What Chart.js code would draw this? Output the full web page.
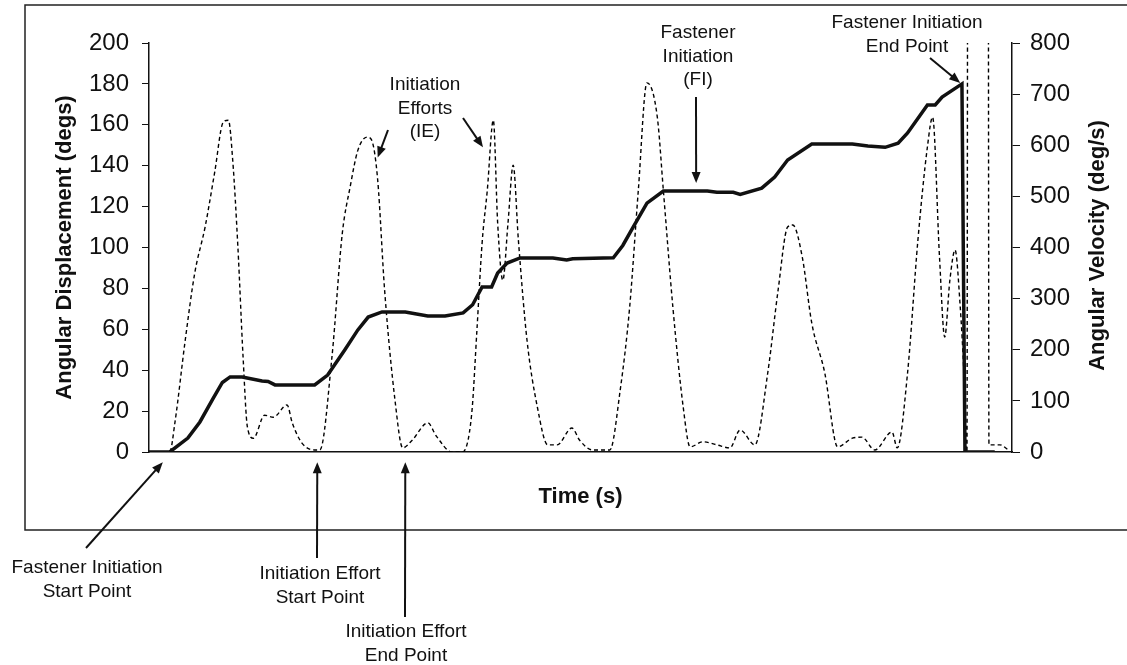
<!DOCTYPE html>
<html lang="en">
<head>
<meta charset="utf-8">
<title>Fastener Initiation - Angular Displacement and Velocity</title>
<script src="https://cdn.jsdelivr.net/npm/chart.js@4.4.1/dist/chart.umd.min.js"></script>
<style>
  html, body { margin: 0; padding: 0; background: #fff; }
  #chartWrap { width: 1127px; height: 665px; }
</style>
</head>
<body>
<div id="chartWrap"><canvas id="initiationChart" width="1127" height="665"></canvas></div>
<script>
// Angular displacement trace (solid line), time in s, displacement in degs
const dispTime = [0.00, 0.24, 0.45, 0.59, 0.74, 0.85, 0.94, 1.08, 1.31, 1.38, 1.46, 1.92, 2.07, 2.27, 2.42, 2.54,
    2.70, 2.97, 3.23, 3.43, 3.64, 3.75, 3.86, 3.97, 4.04, 4.15, 4.30, 4.68, 4.84, 4.91, 5.38, 5.49, 5.61, 5.77,
    5.96, 6.47, 6.58, 6.77, 6.85, 7.10, 7.25, 7.40, 7.68, 8.15, 8.33, 8.53, 8.68, 8.79, 9.02, 9.11, 9.19, 9.42,
    9.455, 9.80];
const dispDegs = [0, 0, 6.8, 14.7, 26, 34, 36.7, 36.7, 34.7, 34.5, 32.8, 32.8, 37.6, 50, 59.7, 66,
    68.5, 68.5, 66.5, 66.5, 68, 72, 80.7, 80.7, 87.5, 92.4, 94.9, 94.9, 93.9, 94.5, 95, 101, 110, 121.7,
    127.6, 127.6, 127, 127, 126, 129, 134.5, 142.8, 150.6, 150.6, 149.6, 149, 151, 156, 169.7, 169.7, 173.6, 180,
    0, 0];

// Angular velocity trace (dashed line), time in s, velocity in deg/s
const velTime = [0.00, 0.24, 0.30, 0.42, 0.53, 0.65, 0.76, 0.86, 0.92, 0.97, 1.03, 1.09, 1.14, 1.21, 1.34, 1.44,
    1.60, 1.66, 1.77, 1.92, 1.98, 2.12, 2.24, 2.33, 2.42, 2.53, 2.58, 2.65, 2.73, 2.85, 2.94, 3.05, 3.23, 3.33,
    3.51, 3.63, 3.74, 3.80, 3.86, 3.92, 3.99, 4.04, 4.10, 4.16, 4.22, 4.28, 4.38, 4.50, 4.62, 4.73, 4.90, 4.99,
    5.14, 5.34, 5.46, 5.57, 5.67, 5.77, 5.89, 5.96, 6.07, 6.19, 6.27, 6.42, 6.58, 6.73, 6.85, 7.02, 7.17, 7.29,
    7.40, 7.46, 7.57, 7.68, 7.83, 7.98, 8.15, 8.26, 8.41, 8.61, 8.67, 8.79, 8.91, 9.02, 9.08, 9.16, 9.22, 9.28,
    9.34, 9.40, 9.444, 9.478, 9.490, 9.722, 9.733, 9.86, 9.95];
const velDegPerSec = [0, 0, 57, 219, 350, 440, 546, 645, 649, 571, 401, 186, 49, 27, 72, 68,
    92, 57, 18, 4, 4, 186, 428, 518, 590, 616, 610, 532, 317, 102, 8, 23, 57, 31,
    0, 0, 76, 239, 409, 512, 649, 448, 336, 448, 561, 415, 219, 88, 14, 14, 47, 23,
    4, 4, 121, 284, 512, 722, 655, 512, 284, 88, 10, 20, 14, 8, 43, 14, 155, 317,
    440, 444, 381, 252, 155, 10, 27, 29, 4, 39, 8, 155, 415, 597, 655, 381, 225, 336,
    395, 284, 150, 0, 1500, 1500, 14, 14, 5];

// Axis ranges and tick spacing
const timeRange = [0, 10];
const dispRange = [0, 200];
const dispStep = 20;
const velRange = [0, 800];
const velStep = 100;

// Callout texts, tips given in (time, degs) on the displacement axis, tails in px
const callouts = [
    { lines: ['Initiation', 'Efforts', '(IE)'], cx: 425, cy: 85,
      arrows: [{ from: [388, 130], tip: [2.65, 144] }, { from: [463, 118], tip: [3.87, 149] }] },
    { lines: ['Fastener', 'Initiation', '(FI)'], cx: 698, cy: 33,
      arrows: [{ from: [696, 97], tip: [6.34, 131.5] }] },
    { lines: ['Fastener Initiation', 'End Point'], cx: 907, cy: 23,
      arrows: [{ from: [930, 58], tip: [9.40, 180.5] }] },
    { lines: ['Fastener Initiation', 'Start Point'], cx: 87, cy: 568,
      arrows: [{ from: [86, 548], tip: [0.16, -5] }] },
    { lines: ['Initiation Effort', 'Start Point'], cx: 320, cy: 574,
      arrows: [{ from: [317, 558], tip: [1.95, -5] }] },
    { lines: ['Initiation Effort', 'End Point'], cx: 406, cy: 632,
      arrows: [{ from: [405, 617], tip: [2.97, -5] }] }
];

const INK = '#111';
const FONT = '"Liberation Sans", Arial, Helvetica, sans-serif';

document.addEventListener('DOMContentLoaded', function() {
    initializeChart();
});

/**
 * Draw a line with a filled arrow head at (x1, y1)
 */
function drawArrow(ctx, x0, y0, x1, y1) {
    const ang = Math.atan2(y1 - y0, x1 - x0);
    const len = 11, half = 4.5;
    ctx.beginPath();
    ctx.moveTo(x0, y0);
    ctx.lineTo(x1 - Math.cos(ang) * (len - 2), y1 - Math.sin(ang) * (len - 2));
    ctx.stroke();
    ctx.beginPath();
    ctx.moveTo(x1, y1);
    ctx.lineTo(x1 - Math.cos(ang) * len - Math.sin(ang) * half, y1 - Math.sin(ang) * len + Math.cos(ang) * half);
    ctx.lineTo(x1 - Math.cos(ang) * len + Math.sin(ang) * half, y1 - Math.sin(ang) * len - Math.cos(ang) * half);
    ctx.closePath();
    ctx.fill();
}

/**
 * Frame, right axis title and callouts
 */
const figureDecor = {
    id: 'figureDecor',
    beforeDraw(chart) {
        const ctx = chart.ctx;
        ctx.save();
        ctx.strokeStyle = '#222';
        ctx.lineWidth = 1.5;
        ctx.beginPath();
        ctx.moveTo(1127, 5);
        ctx.lineTo(25, 5);
        ctx.lineTo(25, 530);
        ctx.lineTo(1127, 530);
        ctx.stroke();
        ctx.restore();
    },
    afterDraw(chart) {
        const ctx = chart.ctx;
        const xs = chart.scales.x;
        const ys = chart.scales.yDisp;
        const area = chart.chartArea;

        ctx.save();
        // right axis title reads bottom to top, like the left one
        ctx.fillStyle = INK;
        ctx.font = 'bold 22px ' + FONT;
        ctx.textAlign = 'center';
        ctx.textBaseline = 'middle';
        ctx.translate(1098, (area.top + area.bottom) / 2 - 2);
        ctx.rotate(-Math.PI / 2);
        ctx.fillText('Angular Velocity (deg/s)', 0, 0);
        ctx.restore();

        ctx.save();
        ctx.fillStyle = INK;
        ctx.strokeStyle = INK;
        ctx.lineWidth = 2;
        ctx.font = '19px ' + FONT;
        ctx.textAlign = 'center';
        ctx.textBaseline = 'middle';
        callouts.forEach(c => {
            c.lines.forEach((line, i) => ctx.fillText(line, c.cx, c.cy + i * 23.5));
            c.arrows.forEach(a => {
                drawArrow(ctx, a.from[0], a.from[1], xs.getPixelForValue(a.tip[0]), ys.getPixelForValue(a.tip[1]));
            });
        });
        ctx.restore();
    }
};

/**
 * Build the dual axis line chart
 */
function initializeChart() {
    Chart.defaults.font.family = FONT;
    Chart.defaults.color = INK;

    const dispPoints = dispTime.map((t, i) => ({ x: t, y: dispDegs[i] }));
    const velPoints = velTime.map((t, i) => ({ x: t, y: velDegPerSec[i] }));

    const ctx = document.getElementById('initiationChart').getContext('2d');
    new Chart(ctx, {
        type: 'line',
        data: {
            datasets: [
                {
                    label: 'Angular Displacement',
                    data: dispPoints,
                    yAxisID: 'yDisp',
                    borderColor: INK,
                    borderWidth: 3.5,
                    tension: 0,
                    pointRadius: 0,
                    order: 1
                },
                {
                    label: 'Angular Velocity',
                    data: velPoints,
                    yAxisID: 'yVel',
                    borderColor: '#000',
                    borderWidth: 1.4,
                    borderDash: [4, 3],
                    cubicInterpolationMode: 'monotone',
                    pointRadius: 0,
                    order: 2
                }
            ]
        },
        options: {
            responsive: false,
            animation: false,
            layout: { padding: { left: 52, right: 0, top: 43, bottom: 155 } },
            plugins: {
                legend: { display: false },
                tooltip: { enabled: false }
            },
            scales: {
                x: {
                    type: 'linear',
                    position: 'bottom',
                    min: timeRange[0],
                    max: timeRange[1],
                    ticks: { display: false },
                    grid: { display: false },
                    border: { display: true, color: INK, width: 1.5 },
                    title: { display: true, text: 'Time (s)', color: INK, padding: 0,
                             font: { size: 22, weight: 'bold' } },
                    afterFit: s => { s.height = 58; }
                },
                yDisp: {
                    type: 'linear',
                    position: 'left',
                    min: dispRange[0],
                    max: dispRange[1],
                    ticks: { stepSize: dispStep, padding: 13, color: INK, font: { size: 24 } },
                    grid: { drawOnChartArea: false, drawTicks: true, tickLength: 7, color: INK, lineWidth: 1 },
                    border: { color: INK, width: 1.5 },
                    title: { display: true, text: 'Angular Displacement (degs)', color: INK, padding: 0,
                             font: { size: 22, weight: 'bold' } },
                    afterFit: s => { s.width = 97; }
                },
                yVel: {
                    type: 'linear',
                    position: 'right',
                    min: velRange[0],
                    max: velRange[1],
                    ticks: { stepSize: velStep, padding: 10, color: INK, font: { size: 24 } },
                    grid: { drawOnChartArea: false, drawTicks: true, tickLength: 8, color: INK, lineWidth: 1 },
                    border: { color: INK, width: 1.5 },
                    afterFit: s => { s.width = 115; }
                }
            }
        },
        plugins: [figureDecor]
    });
}
</script>
</body>
</html>
